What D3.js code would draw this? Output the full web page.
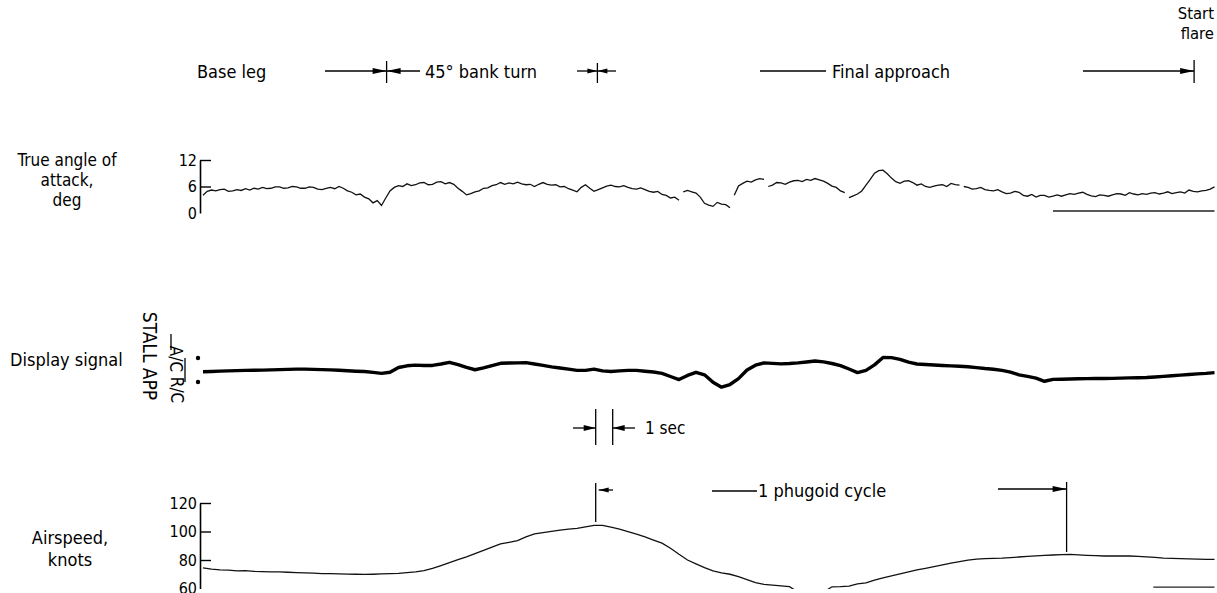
<!DOCTYPE html>
<html><head><meta charset="utf-8">
<script src="https://cdn.jsdelivr.net/npm/d3@7"></script>
<style>
html,body{margin:0;padding:0;background:#fff;}
svg text{font-family:"DejaVu Sans Condensed","Liberation Sans Narrow",sans-serif;fill:#000;font-size:18px;}
</style></head><body>
<svg id="chart" width="1217" height="593"></svg>
<script>
// ---------- data ----------
// true angle of attack, deg, sampled every 0.25 s
const aoaStep = 0.25;
const aoaDeg = [
 4.0,4.9, 5.2,5.0, 5.3,5.4, 4.9,5.0, 5.3,5.1, 5.5,5.2, 5.6,5.4, 5.8,5.5, 5.6,5.9, 5.9,5.6,
 5.7,6.0, 5.9,5.6, 5.6,5.9, 5.8,5.4, 5.3,5.6, 5.8,5.5, 6.0,5.6, 5.0,4.7, 4.1,4.3, 3.6,3.2,
 2.3,2.8, 1.7,3.4, 5.0,5.8, 6.2,6.0, 6.6,6.2, 6.4,6.8, 6.9,6.4, 6.5,7.0, 7.1,6.6, 6.9,6.5,
 5.6,4.9, 4.1,4.4, 4.8,5.0, 5.6,5.7, 6.2,6.4, 6.9,6.5, 6.8,6.6, 7.0,6.6, 6.4,6.5, 6.0,6.5,
 6.9,6.5, 6.3,6.4, 5.9,6.0, 5.5,5.2, 4.8,5.8, 6.4,5.6, 4.9,5.3, 5.7,6.1, 6.3,6.0, 5.9,6.2,
 5.8,5.5, 5.4,5.7, 5.3,4.9, 4.7,4.9, 4.2,4.0, 3.4,3.6, 2.9,4.8, 5.1,4.8, 4.5,3.6, 2.2,1.8,
 1.5,2.4, 2.0,1.9, 1.2,4.0, 6.1,6.7, 7.2,7.0, 7.5,7.8, 7.6,6.0, 6.3,6.9, 6.8,6.5, 7.0,7.3,
 7.4,7.1, 7.6,7.4, 7.8,7.5, 7.2,6.7, 6.1,5.8, 5.0,4.6, 3.5,3.9, 4.3,5.0, 6.3,7.6, 9.0,9.6,
 9.7,8.9, 7.9,7.1, 6.7,7.2, 7.3,6.9, 6.3,6.6, 6.0,5.8, 6.1,6.3, 6.4,6.0, 6.7,6.4, 6.3,6.0,
 5.8,5.4, 5.5,5.8, 5.3,5.1, 5.0,5.3, 4.8,4.4, 4.5,4.9, 4.7,4.0, 3.8,4.2, 3.6,4.0, 4.0,3.6,
 3.8,4.1, 3.8,4.1, 4.4,4.2, 4.5,4.7, 4.2,3.9, 3.7,4.1, 4.0,3.8, 4.1,4.4, 4.3,4.0, 4.6,4.3,
 4.1,4.4, 4.2,4.5, 4.6,4.3, 4.5,4.8, 4.4,4.6, 4.8,4.5, 5.2,4.9, 4.8,5.0, 5.1,5.4, 5.9];
const aoaGapTimes = [28.1, 31.1, 33.2, 37.8, 44.6];
const aoaReference = {value: 0.45, from: 50.0, to: 59.5};

// display signal (A/C = +1, R/C = -1), sampled every 0.5 s
const sampleStep = 0.5;
const displaySignal = [
 -0.14,-0.12,-0.09,-0.07,-0.05,-0.03,-0.02,-0.01,0.01,0.03,
 0.05,0.07,0.07,0.05,0.03,0.01,-0.02,-0.06,-0.10,-0.13,
 -0.20,-0.28,-0.19,0.21,0.35,0.41,0.37,0.38,0.50,0.64,
 0.45,0.21,0.02,0.17,0.37,0.56,0.58,0.59,0.61,0.50,
 0.38,0.26,0.17,0.07,-0.03,-0.03,0.07,-0.07,-0.12,-0.07,
 -0.03,-0.03,-0.10,-0.17,-0.28,-0.54,-0.80,-0.45,-0.19,-0.40,
 -1.02,-1.43,-1.21,-0.72,0.00,0.40,0.59,0.55,0.51,0.54,
 0.59,0.67,0.75,0.68,0.54,0.37,0.08,-0.22,-0.03,0.43,
 1.04,1.03,0.89,0.65,0.50,0.46,0.42,0.38,0.34,0.31,
 0.27,0.20,0.12,0.06,-0.03,-0.18,-0.40,-0.53,-0.68,-0.94,
 -0.78,-0.77,-0.75,-0.73,-0.72,-0.71,-0.71,-0.70,-0.68,-0.66,
 -0.64,-0.62,-0.58,-0.53,-0.48,-0.43,-0.37,-0.32,-0.28,-0.22];

// airspeed, knots, sampled every 0.5 s
const airspeedKnots = [
 74.4,73.6,73.1,72.9,72.4,72.5,72.0,71.9,71.7,71.6,
 71.4,71.2,71.0,70.8,70.5,70.4,70.2,70.1,70.0,69.9,
 70.0,70.2,70.4,70.6,71.2,71.6,72.6,74.1,76.1,78.1,
 80.2,82.2,84.5,86.7,89.0,91.3,92.4,93.6,96.2,98.3,
 99.2,100.1,101.0,101.6,102.2,103.2,104.3,104.3,103.0,101.7,
 99.9,98.2,96.2,94.0,91.8,88.2,84.0,80.0,77.3,74.6,
 72.4,71.0,70.0,68.3,66.2,64.2,62.9,62.4,61.8,61.3,
 57.5,57.0,57.0,57.5,61.2,61.3,61.6,63.2,64.0,65.8,
 67.4,68.8,70.2,71.6,73.0,74.2,75.4,76.6,77.8,78.8,
 79.9,80.6,80.9,81.1,81.3,81.7,82.1,82.5,82.9,83.2,
 83.5,83.8,84.0,83.6,83.3,83.0,82.8,82.8,82.8,82.8,
 82.6,82.2,81.8,81.3,81.1,80.9,80.8,80.6,80.5,80.5];
const airspeedReference = {value: 61.0, from: 55.9, to: 59.5};

const aoaTicks = [0, 6, 12];
const airspeedTicks = [60, 80, 100, 120];
const displayMarks = [{label: "A/C", value: 1}, {label: "R/C", value: -1}];

// event times (s)
const phaseMarks = {baseLegEnd: 10.8, bankTurnEnd: 23.2, flareStart: 58.3};
const oneSecStart = 23.1;
const phugoidStart = 23.1, phugoidEnd = 50.8;

// ---------- scales ----------
const svg = d3.select("#chart");
const tMax = 59.5;
const x = d3.scaleLinear().domain([0, tMax]).range([203, 1214.5]);
const yAoa = d3.scaleLinear().domain([0, 12]).range([213, 160]);
const yDisp = d3.scaleLinear().domain([-1, 1]).range([382, 358]);
const yAir = d3.scaleLinear().domain([60, 120]).range([588.5, 503]);

const toPts = (arr, step) => arr.map((v, i) => ({t: i * step, v}));

// ---------- axes ----------
function drawAxis(scale, ticks) {
  const g = svg.append("g").attr("transform", "translate(200,0)")
    .call(d3.axisLeft(scale).tickValues(ticks).tickSize(-11).tickSizeOuter(0).tickPadding(3).tickFormat(d3.format("d")));
  g.select(".domain").attr("stroke", "#000").attr("stroke-width", 1.6);
  g.selectAll(".tick line").attr("stroke", "#000").attr("stroke-width", 1.4)
    .filter(d => d === ticks[0]).remove();
  g.selectAll(".tick text").style("font-size", "16px").attr("fill", "#000");
  return g;
}
drawAxis(yAoa, aoaTicks);
drawAxis(yAir, airspeedTicks);

// ---------- angle of attack trace ----------
const pts = toPts(aoaDeg, aoaStep);
const segs = [];
let cur = [];
pts.forEach((p, i) => {
  if (i > 0 && aoaGapTimes.some(g => g > pts[i - 1].t && g < p.t)) { segs.push(cur); cur = []; }
  cur.push(p);
});
segs.push(cur);
const lineAoa = d3.line().x(d => x(d.t)).y(d => yAoa(d.v));
svg.append("g").selectAll("path").data(segs).join("path")
  .attr("d", lineAoa).attr("fill", "none").attr("stroke", "#111").attr("stroke-width", 1.3);
svg.append("line").attr("x1", x(aoaReference.from)).attr("x2", x(aoaReference.to))
  .attr("y1", yAoa(aoaReference.value)).attr("y2", yAoa(aoaReference.value))
  .attr("stroke", "#222").attr("stroke-width", 1.6);

// ---------- display signal ----------
const lineDisp = d3.line().x(d => x(d.t)).y(d => yDisp(d.v));
svg.append("path").datum(toPts(displaySignal, sampleStep)).attr("d", lineDisp)
  .attr("fill", "none").attr("stroke", "#000").attr("stroke-width", 3.4).attr("stroke-linejoin", "round");

// display signal scale markings
svg.selectAll("circle.mark").data(displayMarks).join("circle")
  .attr("cx", 198).attr("cy", d => yDisp(d.value)).attr("r", 2.2).attr("fill", "#000");
svg.append("line").attr("x1", 171).attr("x2", 171).attr("y1", 334).attr("y2", 350).attr("stroke", "#000").attr("stroke-width", 1.3);
svg.append("line").attr("x1", 185).attr("x2", 185).attr("y1", yDisp(1)).attr("y2", yDisp(-1)).attr("stroke", "#000").attr("stroke-width", 1.3);
function vtext(cx, cy, s, size) {
  svg.append("text").attr("transform", `translate(${cx},${cy}) rotate(90)`)
    .attr("text-anchor", "middle").attr("dominant-baseline", "central")
    .style("font-size", size + "px").text(s);
}
vtext(150, 356, "STALL APP", 19);
vtext(176, 359, displayMarks[0].label, 17);
vtext(177, 390, displayMarks[1].label, 17);

// ---------- airspeed ----------
svg.append("clipPath").attr("id", "airclip").append("rect")
  .attr("x", 201).attr("y", 480).attr("width", 1016).attr("height", 109);
const lineAir = d3.line().x(d => x(d.t)).y(d => yAir(d.v));
svg.append("path").datum(toPts(airspeedKnots, sampleStep)).attr("d", lineAir).attr("clip-path", "url(#airclip)")
  .attr("fill", "none").attr("stroke", "#111").attr("stroke-width", 1.3);
svg.append("line").attr("x1", x(airspeedReference.from)).attr("x2", x(airspeedReference.to))
  .attr("y1", yAir(airspeedReference.value)).attr("y2", yAir(airspeedReference.value))
  .attr("stroke", "#222").attr("stroke-width", 1.4);

// ---------- helpers ----------
function seg(x1, y1, x2, y2, w = 1.3) {
  svg.append("line").attr("x1", x1).attr("y1", y1).attr("x2", x2).attr("y2", y2)
    .attr("stroke", "#000").attr("stroke-width", w);
}
function arrow(xFrom, xTip, y, len = 14, hw = 3) {
  seg(xFrom, y, xTip, y);
  const d = xTip > xFrom ? -1 : 1;
  svg.append("path").attr("d", `M${xTip},${y} L${xTip + d * len},${y - hw} L${xTip + d * len},${y + hw} Z`).attr("fill", "#000");
}
function label(tx, ty, s, anchor = "start", size) {
  const t = svg.append("text").attr("x", tx).attr("y", ty).attr("text-anchor", anchor).text(s);
  if (size) t.style("font-size", size + "px");
  return t;
}

// ---------- top phase annotations ----------
const rowY = 71;
label(197, 78, "Base leg");
const xb = x(phaseMarks.baseLegEnd);
arrow(325, xb, rowY);
seg(xb, 61, xb, 83);
arrow(420, xb, rowY);
label(425, 78, "45° bank turn");
const xt = x(phaseMarks.bankTurnEnd);
arrow(577, xt, rowY, 10, 2.5);
arrow(616, xt, rowY, 10, 2.5);
seg(xt, 63, xt, 83);
seg(760, rowY, 826, rowY);
label(832, 78, "Final approach");
const xf = x(phaseMarks.flareStart);
arrow(1083, xf, rowY);
seg(xf, 60, xf, 83);
label(1214, 19, "Start", "end", 16.5);
label(1214, 39, "flare", "end", 16.5);

// ---------- left labels ----------
label(67, 166, "True angle of", "middle", 17);
label(67, 186, "attack,", "middle", 17);
label(67, 206, "deg", "middle", 17);
label(10, 366, "Display signal");
label(70, 544, "Airspeed,", "middle");
label(70, 566, "knots", "middle");

// ---------- 1 sec annotation ----------
const s0 = x(oneSecStart), s1 = x(oneSecStart + 1);
seg(s0, 409, s0, 445); seg(s1, 409, s1, 445);
arrow(573, s0, 428, 12, 3);
arrow(635, s1, 428, 12, 3);
label(645, 434, "1 sec", "start", 17);

// ---------- phugoid annotation ----------
const p0 = x(phugoidStart), p1 = x(phugoidEnd);
seg(p0, 483, p0, 522);
arrow(613, p0 + 3, 490, 10, 2.5);
seg(712, 491, 757, 491);
label(758, 497, "1 phugoid cycle");
arrow(998, p1, 489);
seg(p1, 482, p1, 552);
</script>
</body></html>
